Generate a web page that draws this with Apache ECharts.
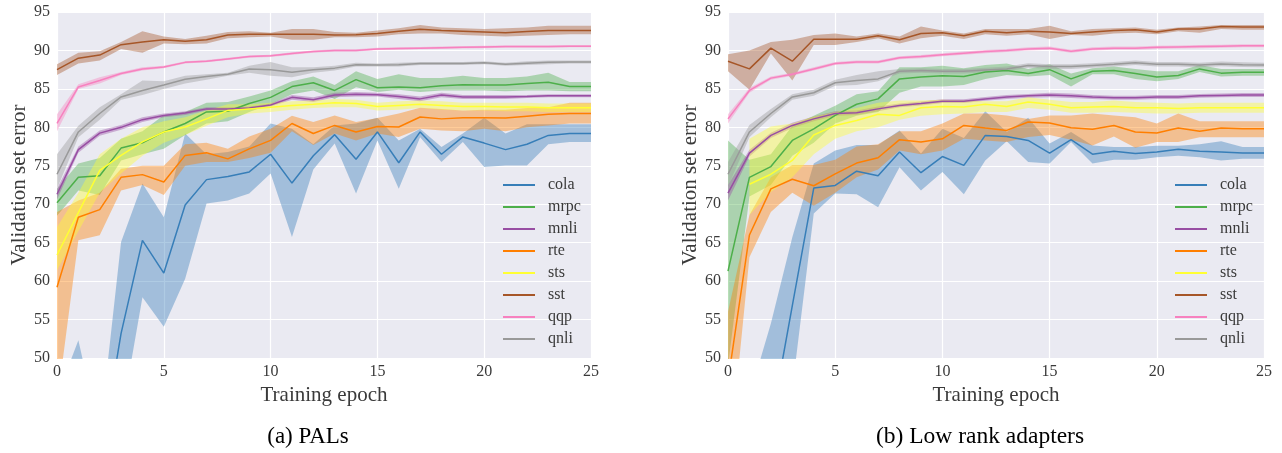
<!DOCTYPE html>
<html>
<head>
<meta charset="utf-8">
<script src="https://cdn.jsdelivr.net/npm/echarts@6/dist/echarts.min.js"></script>
<style>
html,body{margin:0;padding:0;background:#fff;}
#chart{width:1282px;height:453px;}
</style>
</head>
<body>
<div id="chart"></div>
<script>
// ---------- DATA ----------
const epochs = ['0','1','2','3','4','5','6','7','8','9','10','11','12','13','14','15','16','17','18','19','20','21','22','23','24','25'];
const taskNames = ['cola','mrpc','mnli','rte','sts','sst','qqp','qnli'];
const yTicks = [50,55,60,65,70,75,80,85,90,95];

// (a) PALs
const palColaMean = [30,38,36.5,53.2,65.3,61.05,69.9,73.2,73.6,74.2,76.5,72.75,76.3,79.05,75.85,79.4,75.4,79.4,76.5,78.75,77.95,77.1,77.8,78.95,79.2,79.2];
const palColaLo   = [15,24,25,42,57.9,54.05,60.3,70.1,70.5,71.4,74.0,65.75,74.5,77.9,71.4,78.3,72.0,78.7,75.5,78.1,74.85,75.05,75.05,77.8,78.1,78.1];
const palColaHi   = [45,52.3,40,65.1,72.7,68.3,79.2,76.5,76.8,77.5,80.5,79.8,77.8,80.25,80.5,81.25,78.3,79.8,77.45,79.2,81.25,79.2,80.4,80.4,80.4,80.4];

const palMrpcMean = [70.2,73.5,73.7,77.3,78.0,79.4,80.5,82.0,82.1,83.1,83.9,85.3,85.8,84.8,86.2,85.15,85.25,85.15,85.4,85.55,85.5,85.5,85.7,85.85,85.3,85.3];
const palMrpcLo   = [68.5,71.8,71.2,75.7,76.5,77.2,79.0,80.5,80.8,82.0,83.0,84.3,84.8,83.7,85.2,84.6,84.9,84.6,84.8,84.8,84.8,84.7,84.8,84.8,84.7,84.7];
const palMrpcHi   = [72.0,75.3,76.0,78.5,79.5,81.6,82.0,83.2,83.3,84.0,84.8,86.0,86.6,85.5,87.3,86.3,86.9,86.4,86.4,86.7,86.4,86.4,86.6,87.1,85.9,85.9];

const palMnliMean = [71.3,77.1,79.25,80.0,81.0,81.55,81.85,82.4,82.4,82.5,82.9,83.9,83.6,84.2,84.3,84.25,84.0,83.7,84.2,83.95,83.95,83.95,84.0,84.1,84.1,84.1];
const palMnliLo   = [70.6,76.7,78.9,79.7,80.7,81.3,81.6,82.2,82.2,82.3,82.7,83.6,83.3,83.9,84.0,84.0,83.7,83.4,83.9,83.7,83.7,83.7,83.8,83.9,83.9,83.9];
const palMnliHi   = [72.0,77.5,79.6,80.3,81.3,81.8,82.1,82.6,82.6,82.7,83.1,84.2,83.9,84.5,84.6,84.5,84.3,84.0,84.5,84.2,84.2,84.2,84.2,84.3,84.3,84.3];

const palRteMean  = [59.2,68.3,69.3,73.5,73.85,72.9,76.35,76.7,75.9,77.2,78.3,80.5,79.2,80.25,79.4,80.1,80.05,81.35,81.1,81.25,81.25,81.2,81.45,81.7,81.8,81.8];
const palRteLo    = [44,65.3,65.95,71.8,72.5,71.2,75.0,75.5,75.5,76.0,76.7,79.5,77.7,79.2,78.3,79.2,78.75,79.8,79.6,79.5,79.8,79.5,80.0,80.25,80.5,80.5];
const palRteHi    = [69.0,70.5,71.5,74.6,75.0,75.0,77.8,78.0,77.2,78.8,79.8,81.5,80.7,81.55,80.7,81.2,81.8,82.55,82.4,82.2,82.3,82.3,82.5,82.6,83.2,83.2];

const palStsMean  = [63.4,68.9,74.4,76.35,78.1,79.4,80.05,81.1,82.2,82.4,82.6,82.85,83.0,83.2,83.1,82.7,82.85,83.0,82.85,82.7,82.7,82.65,82.65,82.55,82.55,82.55];
const palStsLo    = [61.4,66.5,71.5,74.0,76.3,78.0,79.0,80.2,81.3,81.8,82.0,82.3,82.5,82.6,82.6,82.2,82.3,82.5,82.3,82.2,82.2,82.1,82.1,82.0,82.0,82.0];
const palStsHi    = [67.0,71.5,76.5,78.5,80.0,80.8,81.3,82.2,83.0,83.0,83.2,83.4,83.5,83.7,83.6,83.2,83.4,83.5,83.4,83.2,83.2,83.2,83.2,83.1,83.1,83.1];

const palSstMean  = [87.5,89.0,89.4,90.75,91.1,91.4,91.2,91.4,92.0,92.1,92.1,92.1,92.1,92.0,92.05,92.2,92.5,92.75,92.6,92.5,92.4,92.3,92.45,92.6,92.6,92.6];
const palSstLo    = [86.8,88.3,88.7,90.2,89.7,90.9,90.8,90.9,91.6,91.7,91.8,91.4,91.4,91.7,91.7,91.8,92.1,92.2,92.2,92.0,91.9,91.8,91.9,92.0,92.1,92.1];
const palSstHi    = [88.2,89.7,89.9,91.1,92.5,91.8,91.5,91.9,92.4,92.5,92.3,92.8,92.8,92.4,92.3,92.6,92.9,93.3,93.0,92.9,92.8,92.9,93.0,93.2,93.2,93.2];

const palQqpMean  = [80.5,85.25,86.1,87.0,87.6,87.85,88.45,88.6,88.9,89.2,89.3,89.6,89.85,90.0,90.0,90.2,90.25,90.3,90.35,90.4,90.45,90.5,90.5,90.5,90.55,90.55];
const palQqpLo    = [79.5,85.0,85.7,86.8,87.4,87.7,88.3,88.45,88.75,89.05,89.15,89.45,89.7,89.85,89.85,90.05,90.1,90.15,90.2,90.25,90.3,90.35,90.35,90.35,90.4,90.4];
const palQqpHi    = [81.7,85.6,86.5,87.2,87.8,88.0,88.6,88.75,89.05,89.35,89.45,89.75,90.0,90.15,90.15,90.35,90.4,90.45,90.5,90.55,90.6,90.65,90.65,90.65,90.7,90.7];

const palQnliMean = [73.9,79.4,81.8,83.95,84.8,85.5,86.25,86.6,86.9,87.6,87.5,87.15,87.5,87.7,88.15,88.1,88.15,88.3,88.3,88.3,88.4,88.2,88.35,88.45,88.5,88.5];
const palQnliLo   = [72.0,78.7,81.0,83.6,84.2,85.0,85.7,86.2,86.7,87.1,86.7,86.5,87.1,87.4,87.9,87.9,87.9,88.1,88.1,88.1,88.2,88.0,88.1,88.2,88.3,88.3];
const palQnliHi   = [76.5,80.2,82.6,84.3,86.1,86.0,86.7,86.9,87.1,88.0,88.5,87.8,87.8,88.0,88.4,88.3,88.4,88.5,88.5,88.5,88.6,88.4,88.6,88.7,88.7,88.7];

// (b) Low rank adapters
const loraColaMean = [30,35,41.4,56.8,72.1,72.45,74.3,73.7,76.8,74.1,76.2,75.05,78.95,78.8,78.3,76.65,78.4,76.5,76.9,76.6,76.8,77.15,76.9,76.8,76.65,76.65];
const loraColaLo   = [20,25,28,46,68.8,71.4,71.3,69.6,74.8,71.8,74.2,71.3,75.7,78.2,75.5,75.3,78.1,75.3,75.8,75.8,76.1,76.3,76.1,75.7,75.9,75.9];
const loraColaHi   = [40,45,54.5,65.7,75.3,77.0,77.7,77.7,79.6,76.6,79.8,78.6,82.1,79.4,81.25,77.9,79.4,77.65,77.45,77.45,77.6,77.6,77.8,78.2,77.45,77.45];

const loraMrpcMean = [61.3,73.5,74.9,78.3,79.8,81.55,83.0,83.7,86.3,86.55,86.7,86.6,87.2,87.4,87.0,87.5,86.3,87.3,87.4,87.0,86.55,86.75,87.6,87.05,87.15,87.15];
const loraMrpcLo   = [49,71.0,72.5,76.3,78.0,80.5,81.5,82.0,84.5,85.3,85.3,85.5,86.3,86.8,86.6,86.8,85.3,86.9,86.9,86.3,86.0,86.3,87.2,86.6,86.7,86.7];
const loraMrpcHi   = [78.3,75.8,76.5,80.2,81.5,82.8,84.3,84.7,87.8,87.8,88.0,87.7,88.1,88.3,87.6,88.2,87.0,87.7,87.9,87.6,87.3,87.3,88.1,87.6,87.6,87.6];

const loraMnliMean = [71.45,76.65,78.95,80.25,81.1,81.8,81.9,82.4,82.85,83.1,83.4,83.4,83.7,83.95,84.1,84.2,84.1,83.95,83.85,83.85,83.95,83.95,84.1,84.15,84.2,84.2];
const loraMnliLo   = [70.5,76.2,78.6,79.9,80.8,81.5,81.6,82.1,82.6,82.85,83.15,83.15,83.45,83.7,83.85,83.9,83.8,83.7,83.6,83.6,83.7,83.7,83.85,83.9,83.95,83.95];
const loraMnliHi   = [72.5,77.1,79.3,80.6,81.4,82.1,82.2,82.7,83.1,83.35,83.65,83.65,83.95,84.2,84.35,84.5,84.4,84.2,84.1,84.1,84.2,84.2,84.35,84.4,84.45,84.45];

const loraRteMean  = [47,66.0,72.0,73.25,72.4,73.95,75.35,76.05,78.4,78.1,78.5,80.25,79.9,79.6,80.7,80.55,79.95,79.75,80.25,79.4,79.25,79.9,79.5,79.9,79.8,79.8];
const loraRteLo    = [35,63.1,69.0,71.5,69.8,71.5,73.5,74.5,77.0,76.5,77.0,78.5,78.3,78.1,78.75,79.0,78.4,77.65,78.8,77.35,78.1,78.1,78.7,78.7,78.7,78.7];
const loraRteHi    = [56,68.6,73.5,75.1,75.1,75.8,77.5,77.8,79.5,79.5,80.5,81.8,81.8,81.55,81.1,81.55,81.55,81.8,81.55,81.3,80.5,81.8,80.8,80.8,80.8,80.8];

const loraStsMean  = [null,72.6,73.9,75.7,79.0,80.25,80.9,81.7,81.55,82.55,82.7,82.65,83.0,82.7,83.3,83.0,82.55,82.65,82.7,82.55,82.55,82.45,82.55,82.55,82.55,82.55];
const loraStsLo    = [null,68.6,71.6,73.5,76.5,78.5,79.5,80.0,81.0,81.5,81.7,81.8,82.0,82.0,82.5,82.3,81.9,81.9,82.0,81.9,81.8,81.8,81.9,81.9,81.9,81.9];
const loraStsHi    = [null,78.5,80.1,80.5,81.4,82.0,82.5,83.2,83.5,83.5,83.6,83.5,83.4,83.4,83.9,83.6,83.3,83.3,83.5,83.3,83.2,83.1,83.2,83.2,83.2,83.2];

const loraSstMean  = [88.6,87.6,90.3,88.6,91.45,91.45,91.45,91.9,91.4,92.2,92.3,91.9,92.5,92.3,92.5,92.4,92.2,92.4,92.6,92.7,92.4,92.8,92.8,93.1,93.05,93.05];
const loraSstLo    = [87.3,84.9,89.6,86.1,90.7,90.7,91.1,91.6,90.9,91.6,91.9,91.5,92.1,91.9,92.1,91.5,92.0,91.9,92.2,92.3,92.1,92.5,92.3,92.8,92.7,92.7];
const loraSstHi    = [89.5,90.0,91.1,91.4,92.0,92.2,91.8,92.2,91.8,93.1,92.6,92.2,92.8,92.8,92.8,93.2,92.5,92.8,92.9,93.0,92.7,93.0,93.1,93.3,93.3,93.3];

const loraQqpMean  = [81.1,84.8,86.4,86.9,87.6,88.3,88.5,88.5,89.05,89.2,89.45,89.65,89.85,90.0,90.2,90.3,89.9,90.2,90.3,90.3,90.4,90.45,90.5,90.55,90.6,90.6];
const loraQqpLo    = [80.5,84.5,86.2,86.7,87.4,88.1,88.3,88.3,88.85,89.0,89.25,89.45,89.65,89.8,90.0,90.1,89.7,90.0,90.1,90.1,90.2,90.25,90.3,90.35,90.4,90.4];
const loraQqpHi    = [81.7,85.1,86.6,87.1,87.8,88.5,88.7,88.7,89.25,89.4,89.65,89.85,90.05,90.2,90.4,90.5,90.1,90.4,90.5,90.5,90.6,90.65,90.7,90.75,90.8,90.8];

const loraQnliMean = [73.9,79.4,81.8,83.95,84.5,85.8,86.1,86.3,87.3,87.4,87.3,87.3,87.45,87.6,88.05,87.9,87.9,88.05,88.2,88.4,88.2,88.2,88.1,88.25,88.15,88.1];
const loraQnliLo   = [72.3,78.7,81.3,83.6,84.1,85.4,85.5,86.0,87.0,87.1,87.0,87.0,87.15,87.3,87.75,87.6,87.6,87.75,87.9,88.1,87.9,87.9,87.8,87.95,87.85,87.8];
const loraQnliHi   = [75.5,80.3,82.4,84.3,84.9,86.2,86.8,87.3,87.6,87.7,87.6,87.6,87.75,87.9,88.35,88.2,88.2,88.35,88.5,88.7,88.5,88.5,88.4,88.55,88.45,88.4];

// ---------- STYLE ----------
const palette = ['#377eb8','#4daf4a','#984ea3','#ff7f00','#ffff33','#a65628','#f781bf','#999999'];
const FONT = '"Liberation Serif", "Times New Roman", serif';
const TXT = '#3a3a3a';

const palPanel = [
  [palColaMean, palColaLo, palColaHi],
  [palMrpcMean, palMrpcLo, palMrpcHi],
  [palMnliMean, palMnliLo, palMnliHi],
  [palRteMean, palRteLo, palRteHi],
  [palStsMean, palStsLo, palStsHi],
  [palSstMean, palSstLo, palSstHi],
  [palQqpMean, palQqpLo, palQqpHi],
  [palQnliMean, palQnliLo, palQnliHi]
];
const loraPanel = [
  [loraColaMean, loraColaLo, loraColaHi],
  [loraMrpcMean, loraMrpcLo, loraMrpcHi],
  [loraMnliMean, loraMnliLo, loraMnliHi],
  [loraRteMean, loraRteLo, loraRteHi],
  [loraStsMean, loraStsLo, loraStsHi],
  [loraSstMean, loraSstLo, loraSstHi],
  [loraQqpMean, loraQqpLo, loraQqpHi],
  [loraQnliMean, loraQnliLo, loraQnliHi]
];

function panelSeries(panel, idx) {
  const out = [];
  panel.forEach((arrs, i) => {
    const [mean, lo, hi] = arrs;
    const stackId = 'band' + idx + '_' + i;
    const diff = hi.map((h, k) => (h == null || lo[k] == null) ? null : h - lo[k]);
    out.push({
      type: 'line', xAxisIndex: idx, yAxisIndex: idx, data: lo, stack: stackId,
      symbol: 'none', silent: true, lineStyle: { opacity: 0 }, emphasis: { disabled: true }
    });
    out.push({
      type: 'line', xAxisIndex: idx, yAxisIndex: idx, data: diff, stack: stackId,
      symbol: 'none', silent: true, lineStyle: { opacity: 0 },
      areaStyle: { color: palette[i], opacity: 0.4 }, emphasis: { disabled: true }
    });
    out.push({
      type: 'line', name: taskNames[i], xAxisIndex: idx, yAxisIndex: idx, data: mean,
      symbol: 'none', color: palette[i], lineStyle: { width: 1.5, color: palette[i] },
      emphasis: { disabled: true }
    });
  });
  return out;
}

const gridBox = [
  { left: 57, top: 12, width: 534, height: 346 },
  { left: 728, top: 12, width: 536, height: 346 }
];

function xAxis(idx) {
  return {
    type: 'category', gridIndex: idx, data: epochs, boundaryGap: false,
    axisLine: { show: false }, axisTick: { show: false },
    axisLabel: { interval: (i) => i % 5 === 0, fontFamily: FONT, fontSize: 16, color: TXT, margin: 6 },
    splitLine: { show: true, interval: (i) => i % 5 === 0, lineStyle: { color: '#ffffff', width: 1.2 } },
    name: 'Training epoch', nameLocation: 'middle', nameGap: 24,
    nameTextStyle: { fontFamily: FONT, fontSize: 21, color: TXT }
  };
}
function yAxis(idx) {
  return {
    type: 'value', gridIndex: idx, min: yTicks[0], max: yTicks[yTicks.length - 1], interval: 5,
    axisLine: { show: false }, axisTick: { show: false },
    axisLabel: { fontFamily: FONT, fontSize: 16, color: TXT, margin: 7 },
    splitLine: { show: true, lineStyle: { color: '#ffffff', width: 1.2 } },
    name: 'Validation set error', nameLocation: 'middle', nameGap: 27,
    nameTextStyle: { fontFamily: FONT, fontSize: 21, color: TXT }
  };
}
function legend(left) {
  return {
    data: taskNames, orient: 'vertical', left: left, top: 169,
    icon: 'rect', itemWidth: 32, itemHeight: 2, itemGap: 0,
    selectedMode: false,
    textStyle: { fontFamily: FONT, fontSize: 16, color: TXT, lineHeight: 22, padding: [0, 0, 0, 8] }
  };
}

const chart = echarts.init(document.getElementById('chart'), null, { renderer: 'canvas' });
chart.setOption({
  animation: false,
  backgroundColor: '#ffffff',
  grid: gridBox.map(g => Object.assign({ show: true, backgroundColor: '#EAEAF2', borderWidth: 0, containLabel: false }, g)),
  xAxis: [xAxis(0), xAxis(1)],
  yAxis: [yAxis(0), yAxis(1)],
  legend: [legend(498), legend(1170)],
  series: panelSeries(palPanel, 0).concat(panelSeries(loraPanel, 1)),
  graphic: [
    { type: 'text', x: 308, y: 437, style: { text: '(a) PALs', fontFamily: FONT, fontSize: 23, fill: '#000', align: 'center', verticalAlign: 'middle' } },
    { type: 'text', x: 980, y: 437, style: { text: '(b) Low rank adapters', fontFamily: FONT, fontSize: 23.5, fill: '#000', align: 'center', verticalAlign: 'middle' } }
  ]
});
</script>
</body>
</html>
